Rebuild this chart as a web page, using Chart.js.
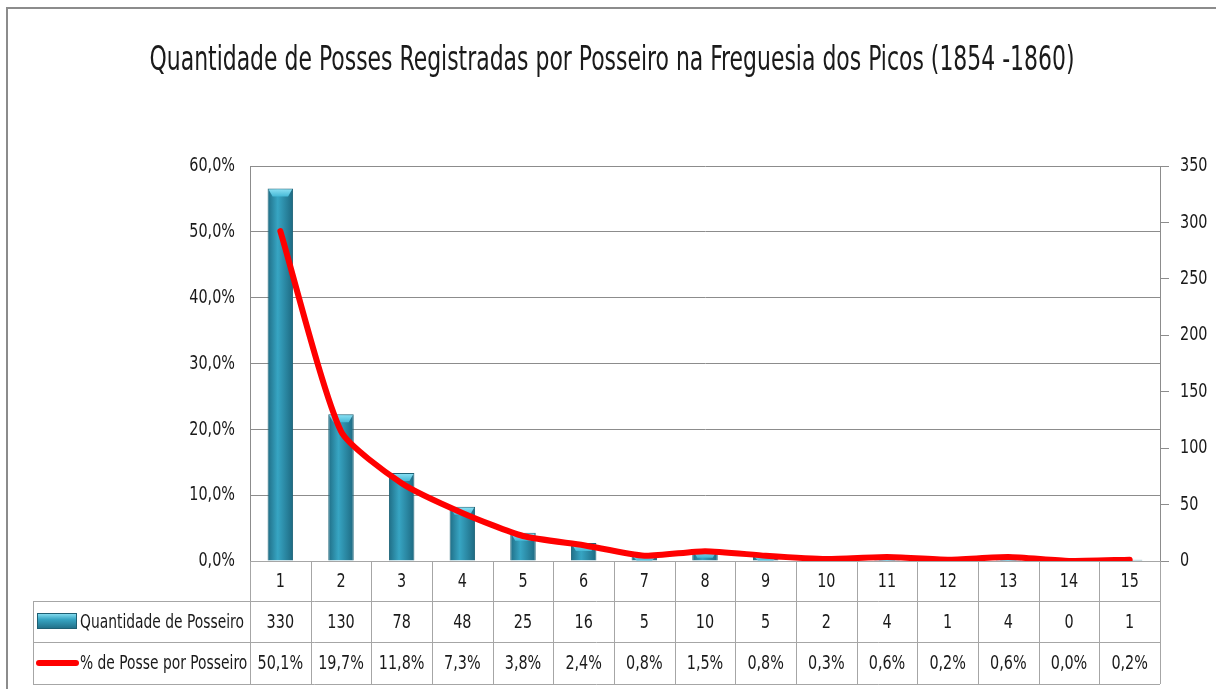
<!DOCTYPE html>
<html>
<head>
<meta charset="utf-8">
<script src="https://cdn.jsdelivr.net/npm/chart.js@4"></script>
<style>
  html, body { margin: 0; padding: 0; background: #fff; }
  #wrap { position: relative; width: 1216px; height: 689px; }
</style>
</head>
<body>
<div id="wrap"><canvas id="myChart" width="1216" height="689"></canvas></div>
<script>
// data
var categories = ['1', '2', '3', '4', '5', '6', '7', '8', '9', '10', '11', '12', '13', '14', '15'];
var quantidade = [330, 130, 78, 48, 25, 16, 5, 10, 5, 2, 4, 1, 4, 0, 1];
var percentual = [50.1, 19.7, 11.8, 7.3, 3.8, 2.4, 0.8, 1.5, 0.8, 0.3, 0.6, 0.2, 0.6, 0.0, 0.2];
var seriesNames = ['Quantidade de Posseiro', '% de Posse por Posseiro'];
var titleText = 'Quantidade de Posses Registradas por Posseiro na Freguesia dos Picos (1854 -1860)';

var FONT = '"DejaVu Sans Condensed", "Liberation Sans", sans-serif';
var TXT = '#1a1a1a';
var LINE = '#a6a6a6';
var SX = 0.8;   // horizontal squeeze, the original uses a narrow font

function pct(v) {
    return v.toFixed(1).replace('.', ',') + '%';
}

// canvas text, squeezed horizontally
function txt(ctx, s, x, y, align, size, sx) {
    ctx.save();
    ctx.font = size + 'px ' + FONT;
    ctx.fillStyle = TXT;
    ctx.textAlign = align;
    ctx.textBaseline = 'middle';
    ctx.translate(x, y);
    ctx.scale(sx || SX, 1);
    ctx.fillText(s, 0, 0);
    ctx.restore();
}

function barFill(context) {
    var chart = context.chart;
    var xs = chart.scales.x;
    if (!chart.chartArea || !xs) return '#2f8fab';
    var cx = xs.getPixelForValue(context.dataIndex);
    var g = chart.ctx.createLinearGradient(cx - 13, 0, cx + 13, 0);
    g.addColorStop(0, '#1f6c84');
    g.addColorStop(0.4, '#37a5c3');
    g.addColorStop(1, '#1d6880');
    return g;
}

var tablePlugin = {
    id: 'tablePlugin',
    beforeDraw: function (chart) {
        var ctx = chart.ctx;
        ctx.save();
        ctx.strokeStyle = '#8c8c8c';
        ctx.lineWidth = 2;
        ctx.beginPath();
        ctx.moveTo(7, 689);
        ctx.lineTo(7, 8);
        ctx.lineTo(1216, 8);
        ctx.stroke();
        ctx.restore();
    },
    afterDatasetDraw: function (chart, args) {
        if (chart.data.datasets[args.index].type !== 'bar') return;
        // light bevel on top of each bar
        var ctx = chart.ctx;
        args.meta.data.forEach(function (bar) {
            var h = bar.base - bar.y;
            if (h < 1) return;
            var l = bar.x - bar.width / 2, r = bar.x + bar.width / 2;
            var d = Math.min(8, h);
            var g = ctx.createLinearGradient(0, bar.y, 0, bar.y + d);
            g.addColorStop(0, '#8fe3f5');
            g.addColorStop(1, '#45b8d6');
            ctx.save();
            ctx.fillStyle = g;
            ctx.beginPath();
            ctx.moveTo(l + 1, bar.y + 1);
            ctx.lineTo(r - 1, bar.y + 1);
            ctx.lineTo(r - 5, bar.y + d);
            ctx.lineTo(l + 5, bar.y + d);
            ctx.closePath();
            ctx.fill();
            ctx.restore();
        });
    },
    afterDraw: function (chart) {
        var ctx = chart.ctx;
        var xs = chart.scales.x, yL = chart.scales.yL, yR = chart.scales.yR;
        var area = chart.chartArea;
        var top = area.bottom;
        var r1 = top + 40, r2 = top + 81, bottom = top + 123;
        var left = 33;
        var step = (area.right - area.left) / categories.length;

        // title
        ctx.save();
        ctx.font = '33px ' + FONT;
        var tsx = 925 / ctx.measureText(titleText).width;
        ctx.restore();
        txt(ctx, titleText, 612, 61, 'center', 33, tsx);

        // axis labels
        yL.ticks.forEach(function (t) {
            txt(ctx, pct(t.value), area.left - 15, yL.getPixelForValue(t.value), 'right', 20);
        });
        yR.ticks.forEach(function (t) {
            txt(ctx, String(t.value), area.right + 20, yR.getPixelForValue(t.value), 'left', 20);
        });

        // table grid
        ctx.save();
        ctx.strokeStyle = LINE;
        ctx.lineWidth = 1;
        ctx.beginPath();
        [r1, r2, bottom].forEach(function (y) {
            ctx.moveTo(left, y + 0.5);
            ctx.lineTo(area.right, y + 0.5);
        });
        ctx.moveTo(left + 0.5, r1);
        ctx.lineTo(left + 0.5, bottom);
        for (var i = 0; i <= categories.length; i++) {
            var x = Math.round(area.left + i * step) + 0.5;
            ctx.moveTo(x, top);
            ctx.lineTo(x, bottom);
        }
        ctx.stroke();

        // legend keys
        var g = ctx.createLinearGradient(0, r1 + 12, 0, r1 + 28);
        g.addColorStop(0, '#8fe3f5');
        g.addColorStop(0.4, '#37a5c3');
        g.addColorStop(1, '#1f6c84');
        ctx.fillStyle = g;
        ctx.fillRect(37, r1 + 12, 40, 16);
        ctx.strokeStyle = '#1e5f73';
        ctx.strokeRect(37.5, r1 + 12.5, 39, 15);

        ctx.strokeStyle = '#ff0000';
        ctx.lineWidth = 6;
        ctx.lineCap = 'round';
        ctx.beginPath();
        ctx.moveTo(39, r2 + 21);
        ctx.lineTo(76, r2 + 21);
        ctx.stroke();
        ctx.restore();

        txt(ctx, seriesNames[0], 80, (r1 + r2) / 2 + 1, 'left', 20, 0.77);
        txt(ctx, seriesNames[1], 80, (r2 + bottom) / 2 + 1, 'left', 20, 0.77);

        for (var j = 0; j < categories.length; j++) {
            var cx = xs.getPixelForValue(j);
            txt(ctx, categories[j], cx, (top + r1) / 2 + 1, 'center', 20);
            txt(ctx, String(quantidade[j]), cx, (r1 + r2) / 2 + 1, 'center', 20);
            txt(ctx, pct(percentual[j]), cx, (r2 + bottom) / 2 + 1, 'center', 20);
        }
    }
};

var ctx = document.getElementById('myChart').getContext('2d');
var myChart = new Chart(ctx, {
    data: {
        labels: categories,
        datasets: [{
            type: 'line',
            label: seriesNames[1],
            data: percentual,
            yAxisID: 'yL',
            borderColor: '#ff0000',
            borderWidth: 6,
            borderCapStyle: 'round',
            borderJoinStyle: 'round',
            pointRadius: 0,
            tension: 0.2,
            order: 0
        }, {
            type: 'bar',
            label: seriesNames[0],
            data: quantidade,
            yAxisID: 'yR',
            backgroundColor: barFill,
            borderColor: '#1e6478',
            borderWidth: 1,
            barPercentage: 0.42,
            categoryPercentage: 1,
            order: 1
        }]
    },
    options: {
        responsive: false,
        animation: false,
        layout: { padding: { left: 0, right: 0, top: 166, bottom: 0 } },
        plugins: {
            legend: { display: false },
            tooltip: { enabled: false },
            title: { display: false }
        },
        scales: {
            x: {
                grid: { display: false, drawTicks: false },
                border: { display: true, color: LINE },
                ticks: { display: false },
                afterFit: function (s) { s.height = 128; }
            },
            yL: {
                position: 'left',
                min: 0,
                max: 60,
                ticks: { stepSize: 10, display: false },
                grid: { color: '#8c8c8c', drawTicks: false },
                border: { display: true, color: '#8c8c8c' },
                afterFit: function (s) { s.width = 250; }
            },
            yR: {
                position: 'right',
                min: 0,
                max: 350,
                ticks: { stepSize: 50, display: false },
                grid: { drawOnChartArea: false, color: '#8c8c8c', tickLength: 9 },
                border: { display: true, color: '#8c8c8c' },
                afterFit: function (s) { s.width = 56; }
            }
        }
    },
    plugins: [tablePlugin]
});
</script>
</body>
</html>
